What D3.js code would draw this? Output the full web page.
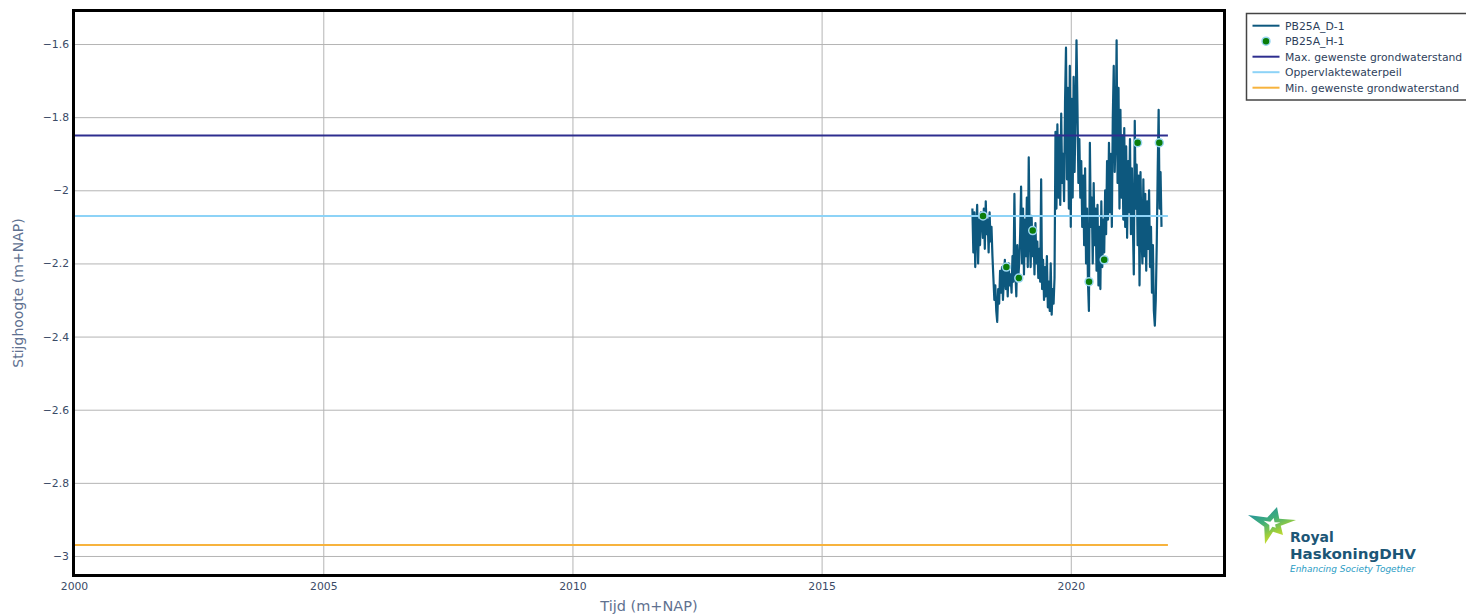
<!DOCTYPE html>
<html><head><meta charset="utf-8">
<script src="https://cdn.jsdelivr.net/npm/d3@7/dist/d3.min.js"></script>
<style>body{margin:0;background:#fff;} svg{display:block;font-family:"DejaVu Sans",Verdana,sans-serif;}</style>
</head><body><svg id="chart" width="1466" height="615"></svg>
<script>
// ---------- data ----------
const xDomain = ["2000-01-01", "2023-01-28"];
const yDomain = [-3.052, -1.5097];
const xTicks = ["2000-01-01", "2005-01-01", "2010-01-01", "2015-01-01", "2020-01-01"];
const xTickLabels = ["2000", "2005", "2010", "2015", "2020"];
const yTicks = [-3, -2.8, -2.6, -2.4, -2.2, -2, -1.8, -1.6];
const yTickLabels = ["−3", "−2.8", "−2.6", "−2.4", "−2.2", "−2", "−1.8", "−1.6"];

// PB25A_D-1 : weekly readings starting at d1Start
const d1Start = "2018-01-10";
const d1Values = [
  -2.05, -2.17, -2.06, -2.21, -2.10, -2.04, -2.20, -2.08, -2.15, -2.06,
  -2.07, -2.13, -2.05, -2.16, -2.03, -2.12, -2.08, -2.17, -2.06, -2.14,
  -2.10, -2.18, -2.24, -2.30, -2.26, -2.33, -2.36, -2.27, -2.31, -2.22,
  -2.28, -2.21, -2.30, -2.24, -2.19, -2.27, -2.22, -2.29, -2.20, -2.26,
  -2.23, -2.28, -2.18, -2.25, -2.01, -2.22, -2.29, -2.15, -2.24, -2.20,
  -2.12, -1.99, -2.20, -2.05, -2.23, -2.08, -2.18, -2.02, -2.21, -1.91,
  -2.13, -2.21, -2.07, -2.18, -2.11, -2.23, -2.09, -2.20, -2.14, -2.24,
  -2.16, -2.25, -1.97, -2.27, -2.19, -2.30, -2.21, -2.29, -2.18, -2.32,
  -2.25, -2.33, -2.20, -2.34, -2.27, -2.31, -2.24, -1.84, -2.05, -1.82,
  -2.02, -1.85, -2.04, -1.79, -1.98, -1.90, -2.03, -1.76, -1.61, -1.97,
  -1.72, -2.05, -1.66, -2.10, -1.75, -2.02, -1.69, -1.95, -1.80, -1.59,
  -1.77, -1.98, -1.86, -2.02, -1.92, -2.10, -1.96, -2.15, -1.94, -2.20,
  -2.05, -2.25, -2.33, -1.87, -2.10, -2.02, -2.20, -1.98, -2.15, -2.05,
  -2.22, -2.04, -2.26, -2.10, -2.27, -2.03, -2.21, -2.08, -2.17, -2.00,
  -2.12, -1.92, -2.08, -1.87, -2.06, -1.90, -2.10, -1.80, -1.66, -1.95,
  -1.85, -1.59, -1.98, -1.72, -2.05, -1.78, -2.02, -1.85, -2.08, -1.83,
  -2.10, -1.88, -2.13, -1.92, -2.06, -1.86, -2.12, -1.94, -2.09, -2.23,
  -1.81, -2.05, -1.93, -2.15, -1.96, -2.26, -1.95, -2.12, -2.20, -1.97,
  -2.18, -2.01, -2.22, -2.03, -2.16, -2.00, -2.21, -2.10, -2.28, -2.15,
  -2.33, -2.37, -2.30, -2.15, -1.95, -1.78, -2.05, -1.95, -2.10
];

// PB25A_H-1 : manual readings
const h1Dates = ["2018-03-29", "2018-09-16", "2018-12-16", "2019-03-28", "2020-05-14", "2020-09-02", "2021-05-05", "2021-10-11"];
const h1Values = [-2.07, -2.21, -2.24, -2.11, -2.25, -2.19, -1.87, -1.87];

// reference levels
const refDates = ["2000-01-01", "2021-12-13"];
const maxLevel = -1.85;      // Max. gewenste grondwaterstand
const surfaceLevel = -2.07;  // Oppervlaktewaterpeil
const minLevel = -2.97;      // Min. gewenste grondwaterstand

const legendNames = ["PB25A_D-1", "PB25A_H-1", "Max. gewenste grondwaterstand", "Oppervlaktewaterpeil", "Min. gewenste grondwaterstand"];
const legendColors = ["#0d587e", "#0a7d0a", "#2e2e8f", "#8dd3f7", "#f7b33d"];

// ---------- layout ----------
const svg = d3.select("#chart");
const P = {l: 74, r: 1224, t: 11, b: 575};
const parse = d3.utcParse("%Y-%m-%d");
const x = d3.scaleUtc().domain(xDomain.map(parse)).range([P.l, P.r]);
const y = d3.scaleLinear().domain(yDomain).range([P.b, P.t]);

svg.append("defs").append("clipPath").attr("id", "clip")
  .append("rect").attr("x", P.l).attr("y", P.t).attr("width", P.r - P.l).attr("height", P.b - P.t);

// grid via axes
const gx = svg.append("g").attr("transform", `translate(0,${P.b})`)
  .call(d3.axisBottom(x).tickValues(xTicks.map(parse)).tickSize(-(P.b - P.t))
    .tickFormat((d, i) => xTickLabels[i]).tickPadding(7));
gx.select(".domain").remove();
gx.selectAll("line").attr("stroke", "#b4b4b4").attr("stroke-width", 1);
gx.selectAll("text").attr("fill", "#3a4a66").attr("font-size", "10.8px")
  .attr("font-family", "DejaVu Sans, Verdana, sans-serif");

const gy = svg.append("g").attr("transform", `translate(${P.l},0)`)
  .call(d3.axisLeft(y).tickValues(yTicks).tickSize(-(P.r - P.l))
    .tickFormat((d, i) => yTickLabels[i]).tickPadding(5));
gy.select(".domain").remove();
gy.selectAll("line").attr("stroke", "#b4b4b4").attr("stroke-width", 1);
gy.selectAll("text").attr("fill", "#3a4a66").attr("font-size", "10.8px")
  .attr("font-family", "DejaVu Sans, Verdana, sans-serif");

const plot = svg.append("g").attr("clip-path", "url(#clip)");

// D-1 series
const d1Data = d1Values.map((v, i) => ({d: d3.utcDay.offset(parse(d1Start), 7 * i), v}));
plot.append("path").datum(d1Data)
  .attr("fill", "none").attr("stroke", legendColors[0]).attr("stroke-width", 2.2)
  .attr("stroke-linejoin", "round")
  .attr("d", d3.line().x(p => x(p.d)).y(p => y(p.v)));

// reference lines
[[maxLevel, legendColors[2]], [surfaceLevel, legendColors[3]], [minLevel, legendColors[4]]].forEach(([lv, c]) => {
  const pts = refDates.map(d => ({d: parse(d), v: lv}));
  plot.append("path").datum(pts).attr("fill", "none").attr("stroke", c).attr("stroke-width", 2)
    .attr("d", d3.line().x(p => x(p.d)).y(p => y(p.v)));
});

// H-1 markers
plot.selectAll("circle.h1").data(h1Dates.map((d, i) => ({d: parse(d), v: h1Values[i]})))
  .enter().append("circle").attr("class", "h1")
  .attr("cx", p => x(p.d)).attr("cy", p => y(p.v)).attr("r", 4)
  .attr("fill", legendColors[1]).attr("stroke", "#9ad6f2").attr("stroke-width", 1.5);

// frame
svg.append("rect").attr("x", P.l - 0.5).attr("y", P.t - 0.5)
  .attr("width", P.r - P.l + 1).attr("height", P.b - P.t + 1)
  .attr("fill", "none").attr("stroke", "#000").attr("stroke-width", 3);

// axis titles
svg.append("text").attr("x", (P.l + P.r) / 2).attr("y", 611).attr("text-anchor", "middle")
  .attr("fill", "#5f7190").attr("font-size", "14.5px").text("Tijd (m+NAP)");
svg.append("text").attr("transform", `translate(23,${(P.t + P.b) / 2}) rotate(-90)`)
  .attr("text-anchor", "middle").attr("fill", "#5f7190").attr("font-size", "14px").text("Stijghoogte (m+NAP)");

// legend
const lg = svg.append("g");
lg.append("rect").attr("x", 1246.5).attr("y", 13.5).attr("width", 240).attr("height", 86.5)
  .attr("fill", "#fff").attr("stroke", "#444").attr("stroke-width", 1.5);
legendNames.forEach((n, i) => {
  const yy = 25.7 + i * 15.5;
  if (i === 1) {
    lg.append("circle").attr("cx", 1266).attr("cy", yy).attr("r", 4)
      .attr("fill", legendColors[1]).attr("stroke", "#9ad6f2").attr("stroke-width", 1.5);
  } else {
    lg.append("line").attr("x1", 1252.5).attr("x2", 1279.5).attr("y1", yy).attr("y2", yy)
      .attr("stroke", legendColors[i]).attr("stroke-width", 2);
  }
  lg.append("text").attr("x", 1285).attr("y", yy + 3.8).attr("fill", "#2e3f5c")
    .attr("font-size", "10.8px").text(n);
});

// logo
const logo = svg.append("g");
const grad = svg.select("defs").append("linearGradient").attr("id", "lg1")
  .attr("x1", "0%").attr("y1", "0%").attr("x2", "60%").attr("y2", "100%");
grad.append("stop").attr("offset", "0%").attr("stop-color", "#1a86ae");
grad.append("stop").attr("offset", "45%").attr("stop-color", "#3fae7a");
grad.append("stop").attr("offset", "75%").attr("stop-color", "#9fcf3a");
grad.append("stop").attr("offset", "100%").attr("stop-color", "#e3e52a");
const outer = [[1248, 515], [1277, 507], [1296, 520], [1283, 535], [1265, 544]];
const cx0 = 1272, cy0 = 524;
const pts = [];
outer.forEach((p, i) => {
  pts.push(p);
  const q = outer[(i + 1) % 5];
  const mx = (p[0] + q[0]) / 2, my = (p[1] + q[1]) / 2;
  pts.push([cx0 + (mx - cx0) * 0.5, cy0 + (my - cy0) * 0.5]);
});
logo.append("path").attr("d", "M" + pts.map(p => p.join(",")).join("L") + "Z").attr("fill", "url(#lg1)");
const inner = pts.map(p => [cx0 + (p[0] - cx0) * 0.35, cy0 + (p[1] - cy0) * 0.35]);
logo.append("path").attr("d", "M" + inner.map(p => p.join(",")).join("L") + "Z").attr("fill", "#fff");
logo.append("text").attr("x", 1290).attr("y", 542).attr("fill", "#1c5676")
  .attr("font-family", "DejaVu Sans, sans-serif").attr("font-weight", 600).attr("font-size", "14px").text("Royal");
logo.append("text").attr("x", 1290).attr("y", 558.5).attr("fill", "#1c5676")
  .attr("font-family", "DejaVu Sans, sans-serif").attr("font-weight", 600).attr("font-size", "14px")
  .attr("textLength", 126).attr("lengthAdjust", "spacingAndGlyphs").text("HaskoningDHV");
logo.append("text").attr("x", 1290).attr("y", 571.5).attr("fill", "#2a9cc4")
  .attr("font-family", "DejaVu Sans, sans-serif").attr("font-style", "italic").attr("font-size", "8.5px")
  .attr("textLength", 125).attr("lengthAdjust", "spacingAndGlyphs").text("Enhancing Society Together");
</script>
</body></html>
